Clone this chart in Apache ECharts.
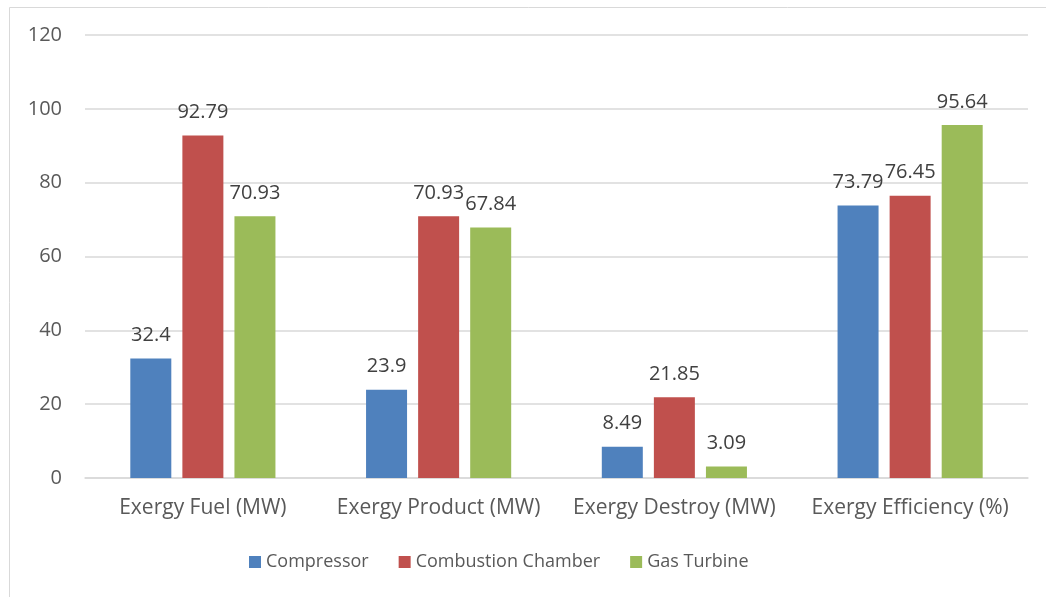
<!DOCTYPE html>
<html>
<head>
<meta charset="utf-8">
<script src="https://cdn.jsdelivr.net/npm/echarts@6/dist/echarts.min.js"></script>
<style>
  html, body { margin: 0; padding: 0; background: #fff; }
  #chart { width: 1046px; height: 597px; }
</style>
</head>
<body>
<div id="chart"></div>
<script>
// Exergy analysis per component
const categories = ['Exergy Fuel (MW)', 'Exergy Product (MW)', 'Exergy Destroy (MW)', 'Exergy Efficiency (%)'];
const compressor = [32.4, 23.9, 8.49, 73.79];
const combustionChamber = [92.79, 70.93, 21.85, 76.45];
const gasTurbine = [70.93, 67.84, 3.09, 95.64];
const seriesNames = ['Compressor', 'Combustion Chamber', 'Gas Turbine'];
const seriesColors = ['#4f81bd', '#c0504d', '#9bbb59'];

const FONT = '"Open Sans", "Liberation Sans", sans-serif';

const chart = echarts.init(document.getElementById('chart'));

function makeSeries(name, data, color) {
  return {
    name: name,
    type: 'bar',
    data: data,
    barWidth: 41,
    barGap: '27%',
    itemStyle: { color: color },
    label: {
      show: true,
      position: 'top',
      distance: 13,
      color: '#404040',
      fontFamily: FONT,
      fontSize: 20
    }
  };
}

chart.setOption({
  backgroundColor: '#ffffff',
  animation: false,
  graphic: [{
    type: 'rect',
    shape: { x: 9.5, y: 7.5, width: 1060, height: 620 },
    style: { fill: 'none', stroke: '#d9d9d9', lineWidth: 1 },
    silent: true,
    z: -1
  }],
  grid: { left: 85, right: 18, top: 35, bottom: 119, containLabel: false },
  legend: {
    data: seriesNames,
    bottom: 21,
    left: 244,
    itemWidth: 12,
    itemHeight: 12,
    itemGap: 30,
    icon: 'rect',
    textStyle: { color: '#595959', fontFamily: FONT, fontSize: 18 }
  },
  xAxis: {
    type: 'category',
    data: categories,
    axisLine: { lineStyle: { color: '#d9d9d9', width: 1.5 } },
    axisTick: { show: false },
    axisLabel: { color: '#595959', fontFamily: FONT, fontSize: 21, margin: 20, interval: 0, hideOverlap: false }
  },
  yAxis: {
    type: 'value',
    min: 0,
    max: 120,
    interval: 20,
    axisLine: { show: false },
    axisTick: { show: false },
    splitLine: { lineStyle: { color: '#d9d9d9', width: 1.5 } },
    axisLabel: { color: '#595959', fontFamily: FONT, fontSize: 20, margin: 23 }
  },
  series: [
    makeSeries(seriesNames[0], compressor, seriesColors[0]),
    makeSeries(seriesNames[1], combustionChamber, seriesColors[1]),
    makeSeries(seriesNames[2], gasTurbine, seriesColors[2])
  ]
});
</script>
</body>
</html>
